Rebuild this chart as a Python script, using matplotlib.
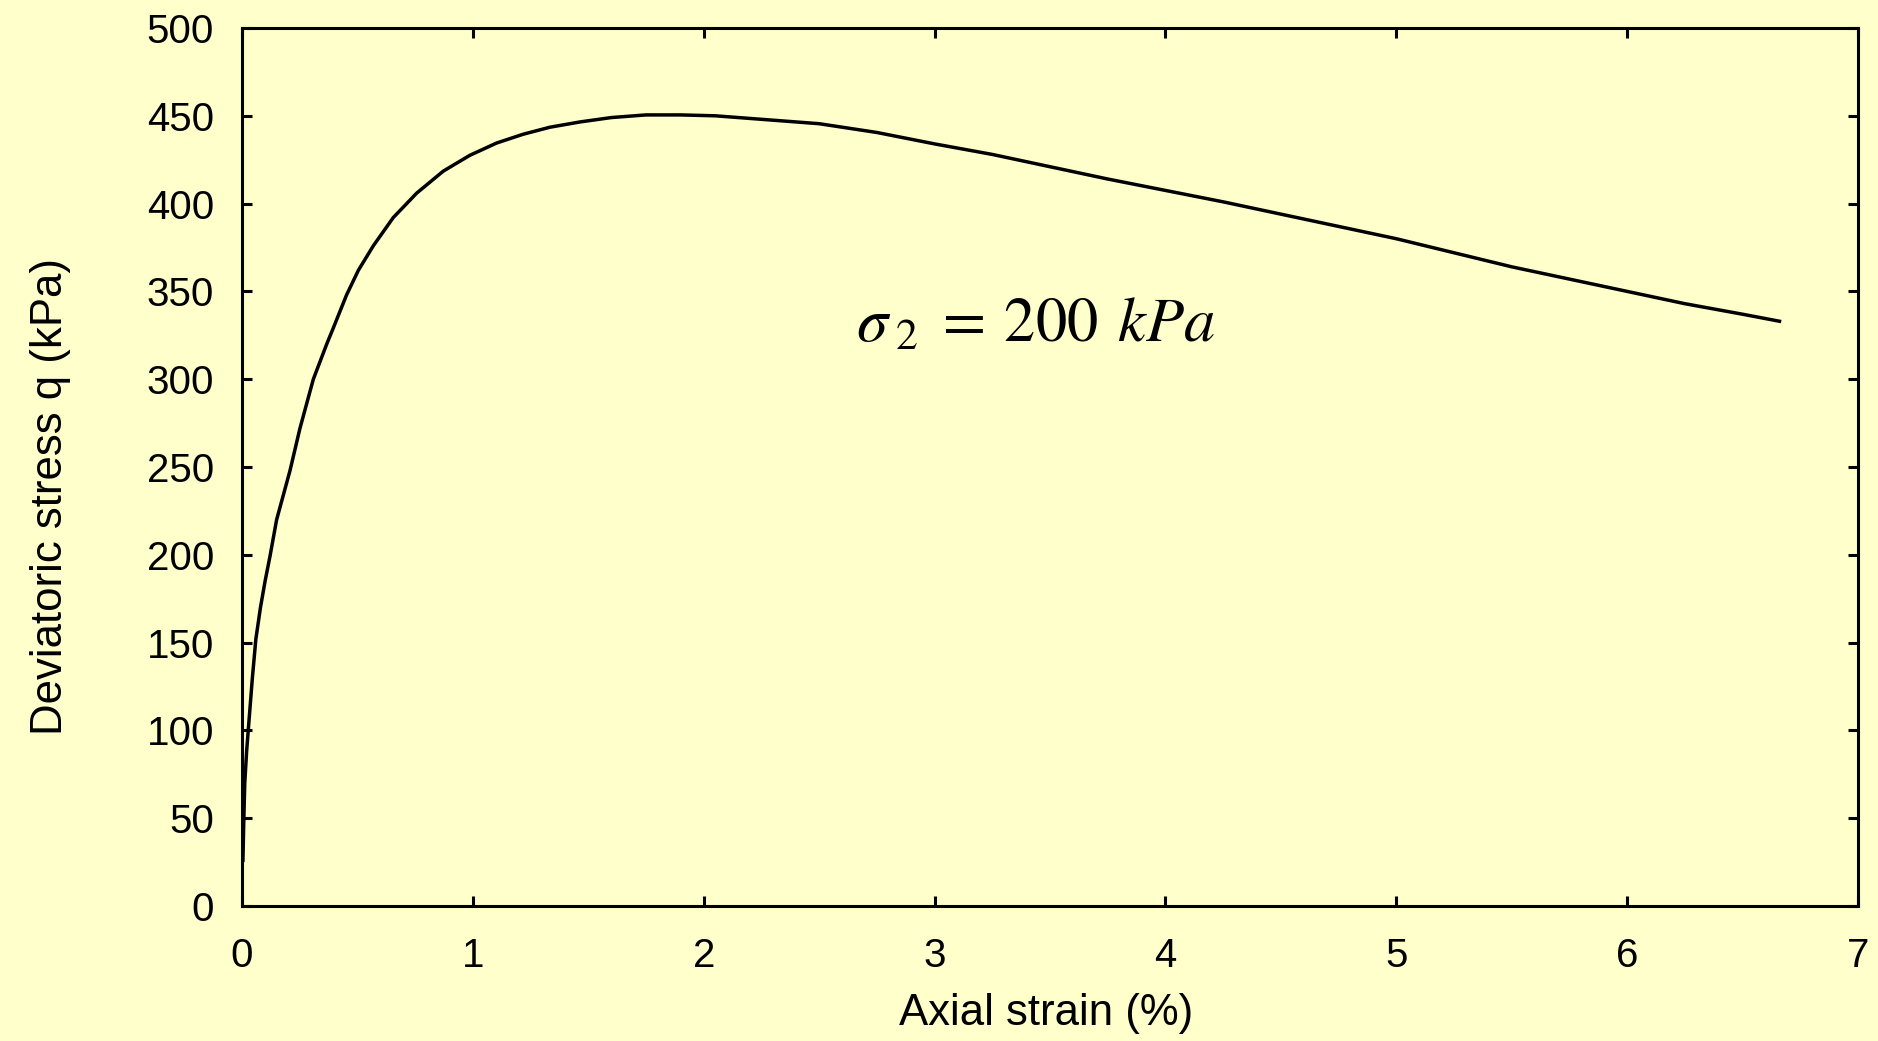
import numpy as np
import matplotlib
matplotlib.use("Agg")
import matplotlib.pyplot as plt

# axial strain (%) and deviatoric stress q (kPa)
strain = [0.004, 0.008, 0.012, 0.02, 0.03, 0.045, 0.06, 0.08, 0.10, 0.121,
          0.15, 0.208, 0.251, 0.309, 0.367, 0.395, 0.453, 0.504, 0.569, 0.655,
          0.757, 0.872, 0.987, 1.103, 1.218, 1.334, 1.464, 1.60, 1.75, 1.90,
          2.05, 2.2, 2.5, 2.75, 3.0, 3.25, 3.5, 3.75, 4.0, 4.25,
          4.5, 4.75, 5.0, 5.25, 5.5, 5.75, 6.0, 6.25, 6.5, 6.66]
stress = [26, 50, 70, 88, 105, 130, 152, 170, 185, 199,
          220, 248, 272, 300, 320, 329, 348, 362, 376, 392,
          406, 418.5, 427.5, 434.5, 439.5, 443.5, 446.5, 449, 450.5, 450.5,
          450, 448.5, 445.5, 440.5, 434, 428, 421, 414, 407.5, 401,
          394, 387, 380, 372, 364, 357, 350, 343, 337, 333]

xticks = [0, 1, 2, 3, 4, 5, 6, 7]
yticks = [0, 50, 100, 150, 200, 250, 300, 350, 400, 450, 500]

bg = "#ffffcc"
W, H = 1878, 1041

plt.rcParams['font.family'] = ['Liberation Sans', 'DejaVu Sans']
plt.rcParams['mathtext.fontset'] = 'stix'

fig = plt.figure(figsize=(W/100, H/100), dpi=100, facecolor=bg)
ax = fig.add_axes([242/W, 1-906/H, (1858-242)/W, (906-28)/H])
ax.set_facecolor(bg)

ax.plot(strain, stress, color="black", lw=2.5)

ax.set_xlim(0, 7)
ax.set_ylim(0, 500)
ax.set_xticks(xticks)
ax.set_yticks(yticks)
for s in ax.spines.values():
    s.set_linewidth(2.2)
ax.tick_params(direction="in", length=7, width=2.2, top=True, right=True,
               labelsize=29)
ax.tick_params(axis="x", pad=22)
ax.tick_params(axis="y", pad=20)

ax.text(2.66, 321.5, r"$\sigma_{\;2}\;=\:200\;\,kPa$", fontsize=45,
        ha="left", va="baseline")

fig.text(1046/W, 1-1025/H, "Axial strain (%)", fontsize=31.5,
         ha="center", va="baseline")
fig.text(51/W, 1-496/H, "Deviatoric stress q (kPa)", fontsize=31.5,
         ha="center", va="center", rotation=90)

plt.savefig("out.png", dpi=100, facecolor=bg)
